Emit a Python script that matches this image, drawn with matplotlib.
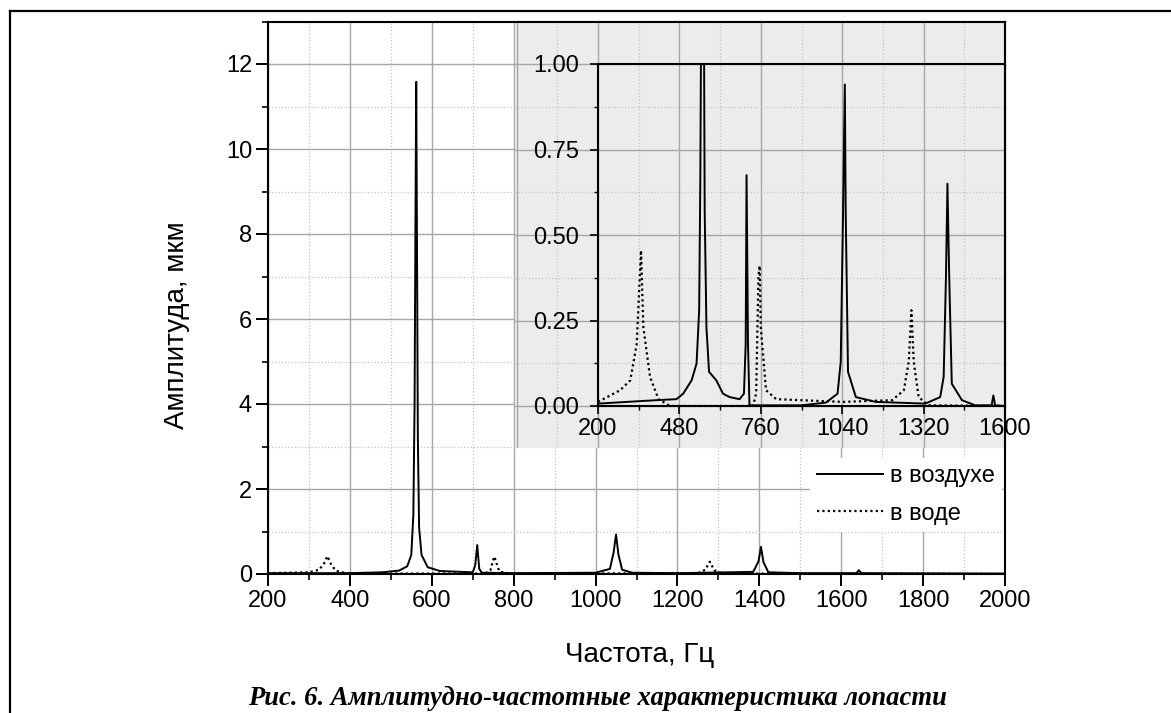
# АЧХ лопасти: main plot (мкм) + normalised inset on grey layer
import numpy as np
import matplotlib
matplotlib.use("Agg")
import matplotlib.pyplot as plt
from matplotlib.lines import Line2D
from matplotlib.ticker import MultipleLocator, FixedLocator

plt.rcParams['font.family'] = ['Liberation Sans', 'DejaVu Sans']

# main graph, amplitude in um
air_f = [200, 400, 480, 520, 540, 550, 555, 558, 560, 562, 564, 566, 569, 575, 590, 620,
         700, 706, 711, 716, 722, 800, 1000, 1035, 1044, 1050, 1056, 1065, 1090, 1200,
         1385, 1398, 1404, 1410, 1422, 1500, 1637, 1643, 1649, 2000]
air_a = [0.02, 0.02, 0.04, 0.08, 0.18, 0.45, 1.4, 4.0, 8.0, 11.58, 7.5, 3.2, 1.1, 0.45, 0.16, 0.07,
         0.04, 0.2, 0.68, 0.12, 0.03, 0.02, 0.03, 0.12, 0.5, 0.93, 0.45, 0.1, 0.03, 0.02,
         0.05, 0.3, 0.64, 0.28, 0.04, 0.02, 0.02, 0.09, 0.02, 0.01]
water_f = [200, 300, 325, 337, 345, 353, 365, 390, 450, 730, 743, 749, 753, 757, 765, 790,
           1250, 1268, 1279, 1290, 1310, 2000]
water_a = [0.02, 0.04, 0.1, 0.25, 0.42, 0.25, 0.08, 0.02, 0.01, 0.01, 0.08, 0.3, 0.41, 0.28, 0.06, 0.01,
           0.02, 0.1, 0.29, 0.09, 0.01, 0.0]

# inset, normalised amplitude
ins_air_f = [200, 300, 400, 470, 493, 522, 539, 548, 552, 554, 565, 567, 573, 582, 607, 630, 653,
             687, 702, 708, 711, 716, 721, 900, 984, 1024, 1035, 1043, 1049, 1052, 1060, 1087,
             1155, 1326, 1377, 1389, 1397, 1402, 1408, 1417, 1452, 1497, 1554, 1560, 1566, 1600]
ins_air_a = [0.007, 0.012, 0.017, 0.02, 0.036, 0.075, 0.124, 0.28, 0.67, 1.0, 1.0, 0.57, 0.23, 0.10,
             0.075, 0.036, 0.026, 0.02, 0.036, 0.18, 0.675, 0.18, 0.002, 0.002, 0.01, 0.036, 0.13,
             0.57, 0.94, 0.57, 0.10, 0.026, 0.012, 0.007, 0.026, 0.085, 0.38, 0.65, 0.38, 0.065,
             0.017, 0.002, 0.002, 0.031, 0.002, 0.0]
ins_water_f = [200, 276, 311, 333, 348, 356, 379, 408, 448, 733, 744, 752, 756, 760, 778, 813,
               1041, 1212, 1252, 1269, 1278, 1286, 1303, 1337, 1600]
ins_water_a = [0.012, 0.046, 0.075, 0.18, 0.455, 0.23, 0.085, 0.02, 0.0, 0.0, 0.036, 0.38, 0.41,
               0.23, 0.046, 0.02, 0.012, 0.017, 0.046, 0.13, 0.28, 0.13, 0.026, 0.002, 0.0]

legend_labels = ["в воздухе", "в воде"]
ins_xticks = [200, 480, 760, 1040, 1320, 1600]

W, H = 1171, 713
def box(l, t, r, b):
    return [l / W, 1 - b / H, (r - l) / W, (b - t) / H]

main_pos = box(268, 21.5, 1005, 574)
ins_pos = box(598, 64, 1005, 406)
grey_pos = box(515, 21.5, 1005, 448)

major_c = '#a6a6a6'
minor_c = '#c4c4c4'
dots = (0, (1, 1.4))

fig = plt.figure(figsize=(W / 100, H / 100), dpi=100)

ax = fig.add_axes(main_pos, zorder=0)
ax.set_axisbelow(True)
ax.plot(air_f, air_a, color='black', lw=1.4, zorder=3)
ax.plot(water_f, water_a, color='black', lw=1.6, ls=dots, zorder=3)
ax.set_xlim(200, 2000)
ax.set_ylim(0, 13)
ax.xaxis.set_major_locator(MultipleLocator(200))
ax.xaxis.set_minor_locator(MultipleLocator(100))
ax.yaxis.set_major_locator(FixedLocator(range(0, 13, 2)))
ax.yaxis.set_minor_locator(MultipleLocator(1))
ax.grid(which='major', color=major_c, lw=1)
ax.grid(which='minor', color=minor_c, lw=0.9, ls=':')
ax.tick_params(which='major', direction='out', length=8.5, width=1.4, labelsize=17, pad=3)
ax.tick_params(which='minor', direction='out', length=4.5, width=1.2)
for s in ax.spines.values():
    s.set_linewidth(1.5)

h = [Line2D([], [], color='black', lw=1.4),
     Line2D([], [], color='black', lw=1.6, ls=dots)]
leg = ax.legend(h, legend_labels, loc='upper left', bbox_to_anchor=(0.735, 0.21), frameon=True,
                facecolor='white', edgecolor='none', framealpha=1, fancybox=False, fontsize=17,
                handlelength=2.8, handletextpad=0.3, labelspacing=0.66, borderpad=0.3,
                borderaxespad=0)
leg.set_zorder(2)  # keep the right spine visible over the legend box

# grey layer behind inset, gridlines continue over it
bg = fig.add_axes(grey_pos, zorder=1)
bg.set_facecolor('#ececec')
sx = (1600 - 200) / ins_pos[2]
sy = 1.0 / ins_pos[3]
bg.set_xlim(200 - (ins_pos[0] - grey_pos[0]) * sx, 1600)
bg.set_ylim(-(ins_pos[1] - grey_pos[1]) * sy, (grey_pos[1] + grey_pos[3] - ins_pos[1]) * sy)
bg.xaxis.set_major_locator(MultipleLocator(280, offset=200))
bg.xaxis.set_minor_locator(MultipleLocator(280, offset=60))
bg.yaxis.set_major_locator(MultipleLocator(0.25))
bg.yaxis.set_minor_locator(MultipleLocator(0.25, offset=0.125))
bg.grid(which='major', color=major_c, lw=1)
bg.grid(which='minor', color=minor_c, lw=0.9, ls=':')
bg.tick_params(which='both', length=0, labelbottom=False, labelleft=False)
bg.spines['left'].set_visible(False)
bg.spines['bottom'].set_visible(False)
bg.spines['top'].set_linewidth(1.5)
bg.spines['right'].set_linewidth(1.5)

ins = fig.add_axes(ins_pos, zorder=2)
ins.set_facecolor('none')
ins.plot(ins_air_f, ins_air_a, color='black', lw=1.4)
ins.plot(ins_water_f, ins_water_a, color='black', lw=1.6, ls=dots)
ins.set_xlim(200, 1600)
ins.set_ylim(0, 1)
ins.xaxis.set_major_locator(FixedLocator(ins_xticks))
ins.xaxis.set_minor_locator(MultipleLocator(280, offset=60))
ins.yaxis.set_major_locator(MultipleLocator(0.25))
ins.yaxis.set_minor_locator(MultipleLocator(0.25, offset=0.125))
ins.yaxis.set_major_formatter(lambda v, p: f"{v:.2f}")
ins.tick_params(which='major', direction='out', length=5.5, width=1.2, labelsize=17)
ins.tick_params(axis='y', which='major', pad=8)
ins.tick_params(axis='x', which='major', pad=3)
ins.tick_params(which='minor', direction='out', length=3, width=1)
for s in ins.spines.values():
    s.set_linewidth(1.5)

fig.text(177 / W, 1 - 325 / H, "Амплитуда, мкм", rotation=90, ha='center', va='center', fontsize=20)
fig.text(640 / W, 1 - 655 / H, "Частота, Гц", ha='center', va='center', fontsize=20)
fig.text(597 / W, 1 - 705 / H, "Рис. 6. Амплитудно-частотные характеристика лопасти",
         ha='center', va='baseline', fontsize=19.2, fontweight='bold', fontstyle='italic',
         family=['Liberation Serif', 'DejaVu Serif'])

# page frame (left and top edges)
fig.add_artist(Line2D([10 / W, 10 / W], [0, 1 - 11 / H], color='black', lw=1.6))
fig.add_artist(Line2D([10 / W, 1], [1 - 11 / H, 1 - 11 / H], color='black', lw=1.6))

fig.savefig("out.png", dpi=100)
